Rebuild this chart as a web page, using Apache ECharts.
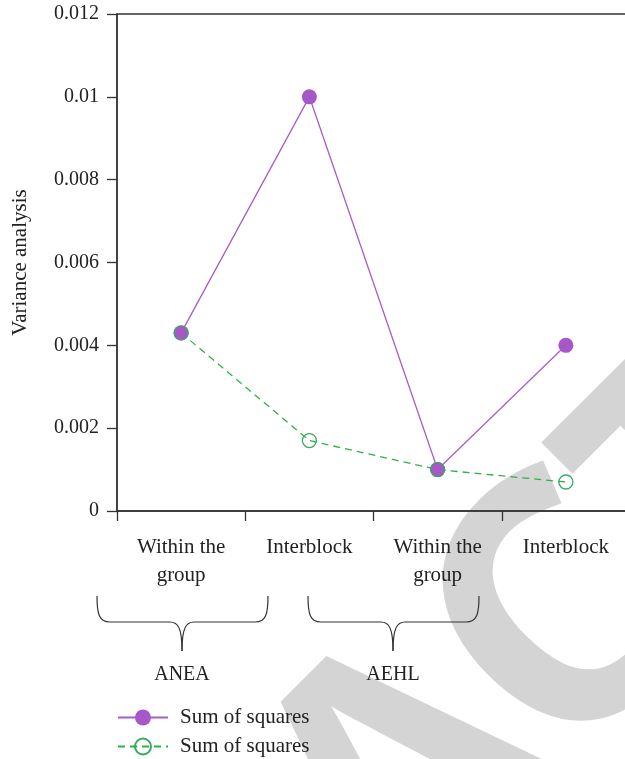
<!DOCTYPE html>
<html>
<head>
<meta charset="utf-8">
<script src="https://cdn.jsdelivr.net/npm/echarts@6/dist/echarts.min.js"></script>
<style>html,body{margin:0;padding:0;background:#fff;}#c{width:625px;height:759px;}</style>
</head>
<body>
<div id="c"></div>
<script>
// ---- data ----
var categories = ['Within the\ngroup', 'Interblock', 'Within the\ngroup', 'Interblock'];
var seriesNames = ['Sum of squares', 'Sum of squares '];
var sumSquaresA = [0.0043, 0.0100, 0.0010, 0.0040];
var sumSquaresB = [0.0043, 0.0017, 0.0010, 0.0007];
var yTickLabels = ['0', '0.002', '0.004', '0.006', '0.008', '0.01', '0.012'];
var groupLabels = ['ANEA', 'AEHL'];
var yAxisName = 'Variance analysis';
var watermarkText = 'RETRACTED';

var SERIF = '"Liberation Serif", "Times New Roman", serif';
var chart = echarts.init(document.getElementById('c'), null, {renderer: 'canvas'});

// ---- watermark (letters laid along a 45deg baseline; u along baseline, v toward text-down) ----
var wmFont = '700 350px "Open Sans"';
var cv = document.createElement('canvas').getContext('2d');
cv.font = wmFont;
cv.textBaseline = 'middle';
var S2 = Math.SQRT2;
var letters = watermarkText.split('');
var widths = letters.map(function (ch) { return cv.measureText(ch).width; });
var mT = cv.measureText('T'), mC = cv.measureText('C'), mA = cv.measureText('A');
var capV = 694, cLeftU = -136, aCenterU = -263;
var vMid = capV + mT.actualBoundingBoxAscent;
var uC = cLeftU + mC.actualBoundingBoxLeft;          // start of letter C (index 5)
var spacing = uC - widths[4] + (mA.actualBoundingBoxRight - mA.actualBoundingBoxLeft) / 2 - aCenterU;
spacing = Math.max(-30, Math.min(10, spacing));
var starts = [];
starts[5] = uC;
for (var i = 4; i >= 0; i--) starts[i] = starts[i + 1] - widths[i] - spacing;
for (var j = 6; j < letters.length; j++) starts[j] = starts[j - 1] + widths[j - 1] + spacing;
var graphics = [];
letters.forEach(function (ch, i) {
  var u = starts[i];
  graphics.push({type: 'text', x: (u + vMid) / S2, y: (vMid - u) / S2, rotation: Math.PI / 4, z: -100, silent: true,
    style: {text: ch, font: wmFont, fill: '#d4d4d4', textAlign: 'left', textVerticalAlign: 'middle'}});
});

// ---- braces ----
function brace(x0, xc, x1, yTop, yBar, yTip) {
  var st = {stroke: '#333', lineWidth: 1.2, fill: null};
  return [
    {type: 'bezierCurve', z: 10, shape: {x1: x0, y1: yTop, cpx1: x0, cpy1: yBar - 8, cpx2: x0 + 2, cpy2: yBar, x2: x0 + 13, y2: yBar}, style: st},
    {type: 'line', z: 10, shape: {x1: x0 + 13, y1: yBar, x2: xc - 12, y2: yBar}, style: st},
    {type: 'bezierCurve', z: 10, shape: {x1: xc - 12, y1: yBar, cpx1: xc - 4, cpy1: yBar, cpx2: xc, cpy2: yBar + 6, x2: xc, y2: yTip}, style: st},
    {type: 'bezierCurve', z: 10, shape: {x1: xc, y1: yTip, cpx1: xc, cpy1: yBar + 6, cpx2: xc + 4, cpy2: yBar, x2: xc + 12, y2: yBar}, style: st},
    {type: 'line', z: 10, shape: {x1: xc + 12, y1: yBar, x2: x1 - 13, y2: yBar}, style: st},
    {type: 'bezierCurve', z: 10, shape: {x1: x1 - 13, y1: yBar, cpx1: x1 - 2, cpy1: yBar, cpx2: x1, cpy2: yBar - 8, x2: x1, y2: yTop}, style: st}
  ];
}
graphics = graphics.concat(brace(97, 182, 268, 596, 622, 651), brace(308, 393, 479, 596, 622, 651));
graphics.push(
  {type: 'text', x: 182, y: 675, z: 10, style: {text: groupLabels[0], font: '20px ' + SERIF, fill: '#222', textAlign: 'center', textVerticalAlign: 'middle'}},
  {type: 'text', x: 393, y: 675, z: 10, style: {text: groupLabels[1], font: '20px ' + SERIF, fill: '#222', textAlign: 'center', textVerticalAlign: 'middle'}}
);

var option = {
  backgroundColor: '#fff',
  animation: false,
  grid: {left: 117, top: 14, right: -5, bottom: 248, outerBoundsMode: 'none', containLabel: false,
    show: true, borderColor: '#333', borderWidth: 1.3, backgroundColor: 'transparent'},
  legend: {
    orient: 'vertical', left: 117, top: 707, padding: 0,
    itemWidth: 50, itemHeight: 20, itemGap: 8,
    textStyle: {fontFamily: SERIF, fontSize: 21, color: '#222', lineHeight: 20, padding: [0, 0, 0, 7]},
    data: seriesNames
  },
  xAxis: {
    type: 'category', data: categories, boundaryGap: true,
    axisLine: {lineStyle: {color: '#333', width: 1.5}},
    axisTick: {show: true, length: 10, lineStyle: {color: '#333', width: 1.3}},
    axisLabel: {fontFamily: SERIF, fontSize: 21, color: '#222', margin: 22, lineHeight: 28, interval: 0},
    splitLine: {show: false}
  },
  yAxis: {
    type: 'value', min: 0, max: 0.012, interval: 0.002,
    name: yAxisName, nameLocation: 'middle', nameGap: 86, nameRotate: 90,
    nameTextStyle: {fontFamily: SERIF, fontSize: 21, color: '#222'},
    axisLine: {show: true, lineStyle: {color: '#333', width: 1.5}},
    axisTick: {show: true, length: 10, lineStyle: {color: '#333', width: 1.3}},
    axisLabel: {fontFamily: SERIF, fontSize: 20, color: '#222', margin: 18,
      formatter: function (v, i) { return yTickLabels[i]; }},
    splitLine: {show: false}
  },
  graphic: graphics,
  series: [
    {
      name: seriesNames[0], type: 'line', data: sumSquaresA,
      symbol: 'circle', symbolSize: 15,
      itemStyle: {color: '#a757c7'},
      lineStyle: {color: '#ab5cc9', width: 1.3}
    },
    {
      name: seriesNames[1], type: 'line', data: sumSquaresB,
      symbol: 'circle', symbolSize: 14,
      itemStyle: {color: 'rgba(255,255,255,0)', borderColor: '#3aa865', borderWidth: 1.3},
      lineStyle: {color: '#2db341', width: 1.3, type: [7, 5]}
    }
  ]
};
chart.setOption(option);
</script>
</body>
</html>
